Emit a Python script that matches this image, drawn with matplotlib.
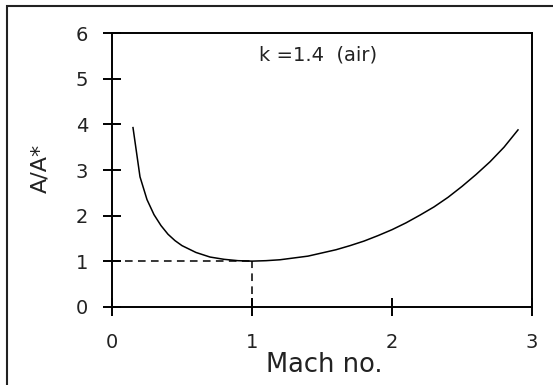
import matplotlib
matplotlib.use("Agg")
import matplotlib.pyplot as plt
from matplotlib.patches import Rectangle

mach = [0.15, 0.2, 0.25, 0.3, 0.35, 0.4, 0.45, 0.5, 0.6, 0.7, 0.8, 0.9, 1.0,
        1.1, 1.2, 1.3, 1.4, 1.5, 1.6, 1.7, 1.8, 1.9, 2.0, 2.1, 2.2, 2.3, 2.4,
        2.5, 2.6, 2.7, 2.8, 2.9]
area_ratio = [3.93, 2.85, 2.35, 2.02, 1.78, 1.59, 1.45, 1.34, 1.19, 1.09, 1.04,
              1.01, 1.00, 1.01, 1.03, 1.07, 1.11, 1.18, 1.25, 1.34, 1.44, 1.56,
              1.69, 1.84, 2.01, 2.19, 2.40, 2.64, 2.90, 3.18, 3.50, 3.88]
x_ticks = [0, 1, 2, 3]
y_ticks = [0, 1, 2, 3, 4, 5, 6]
note = "k =1.4  (air)"

plt.rcParams['font.family'] = ['DejaVu Sans']
txt = '#222222'

W, H = 553, 385
fig = plt.figure(figsize=(W/100, H/100), dpi=100)
L, R, T, B = 112, 532, 33.3, 306.7
ax = fig.add_axes([L/W, 1-B/H, (R-L)/W, (B-T)/H])

ax.plot(mach, area_ratio, color='black', lw=1.1)
ax.plot([0, 1], [1, 1], color='black', lw=1.1, dashes=(5, 3.5))
ax.plot([1, 1], [0, 1], color='black', lw=1.1, dashes=(5, 3.5))

ax.set_xlim(0, 3)
ax.set_ylim(0, 6)
ax.set_xticks(x_ticks)
ax.set_yticks(y_ticks)
ax.tick_params(direction='inout', length=12.5, width=1.4, color='black',
               labelsize=14, labelcolor=txt)
ax.tick_params(axis='x', pad=13)
ax.tick_params(axis='y', pad=11)
for s in ax.spines.values():
    s.set_linewidth(1.4)
    s.set_color('black')

ax.set_xlabel("Mach no.", fontsize=18.5, color=txt, va='center')
ax.xaxis.set_label_coords(0.505, (B-365)/(B-T))
ax.set_ylabel("A/A*", fontsize=16, color=txt, va='center')
ax.yaxis.set_label_coords((40-L)/(R-L), (B-168)/(B-T))
ax.text(1.47, 5.53, note, fontsize=14, ha='center', va='center', color=txt)

fig.patches.append(Rectangle((7/W, -0.5), 2, 1.5 - 5.5/H, transform=fig.transFigure,
                             fill=False, edgecolor='#222222', lw=1.5))

fig.savefig("out.png", dpi=100)
